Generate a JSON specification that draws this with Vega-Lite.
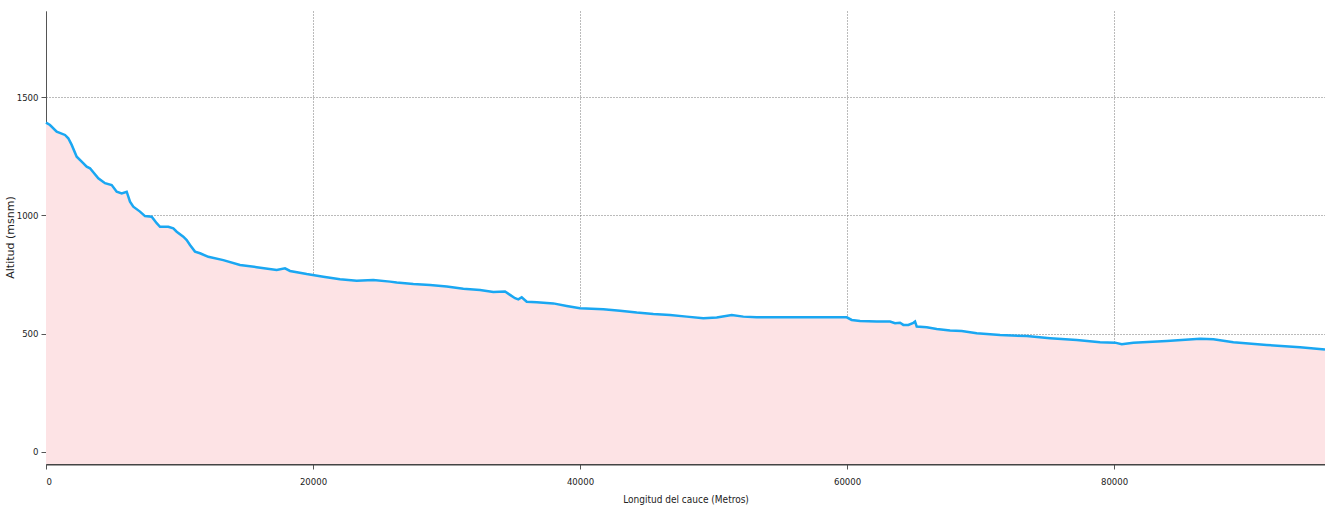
{
  "$schema": "https://vega.github.io/schema/vega-lite/v6.json",
  "autosize": {"type": "none"},
  "padding": {"left": 46, "top": 11, "right": 0, "bottom": 44},
  "width": 1279,
  "height": 453,
  "background": "white",
  "config": {
    "view": {"stroke": null},
    "axis": {
      "labelFont": "DejaVu Sans Condensed",
      "labelFontSize": 9.5,
      "labelColor": "#222",
      "titleFontWeight": "normal",
      "titleColor": "#222",
      "grid": true,
      "gridColor": "#777",
      "gridDash": [1, 2],
      "gridWidth": 1,
      "tickColor": "#555",
      "tickSize": 5,
      "domainColor": "#555"
    }
  },
  "data": {
    "values": [
      {"dist": 0, "alt": 1392},
      {"dist": 300, "alt": 1382},
      {"dist": 801, "alt": 1354},
      {"dist": 1423, "alt": 1340},
      {"dist": 1670, "alt": 1326},
      {"dist": 1925, "alt": 1298},
      {"dist": 2300, "alt": 1248},
      {"dist": 2674, "alt": 1227},
      {"dist": 3049, "alt": 1206},
      {"dist": 3296, "alt": 1199},
      {"dist": 3918, "alt": 1157},
      {"dist": 4419, "alt": 1136},
      {"dist": 4921, "alt": 1128},
      {"dist": 5296, "alt": 1100},
      {"dist": 5670, "alt": 1093},
      {"dist": 6045, "alt": 1100},
      {"dist": 6292, "alt": 1058},
      {"dist": 6539, "alt": 1037},
      {"dist": 7041, "alt": 1016},
      {"dist": 7416, "alt": 997},
      {"dist": 7917, "alt": 994},
      {"dist": 8292, "alt": 967},
      {"dist": 8539, "alt": 952},
      {"dist": 9161, "alt": 952},
      {"dist": 9535, "alt": 945},
      {"dist": 9790, "alt": 931},
      {"dist": 10285, "alt": 910},
      {"dist": 10539, "alt": 896},
      {"dist": 10786, "alt": 875},
      {"dist": 11161, "alt": 847},
      {"dist": 11536, "alt": 840},
      {"dist": 12157, "alt": 825},
      {"dist": 13281, "alt": 811},
      {"dist": 14532, "alt": 790},
      {"dist": 15783, "alt": 781},
      {"dist": 17281, "alt": 769},
      {"dist": 17903, "alt": 776},
      {"dist": 18277, "alt": 765},
      {"dist": 19528, "alt": 752},
      {"dist": 20771, "alt": 741},
      {"dist": 22022, "alt": 730},
      {"dist": 23273, "alt": 724},
      {"dist": 24517, "alt": 727},
      {"dist": 25768, "alt": 720},
      {"dist": 26270, "alt": 716},
      {"dist": 27513, "alt": 710},
      {"dist": 28764, "alt": 706},
      {"dist": 30015, "alt": 699},
      {"dist": 31258, "alt": 690},
      {"dist": 32509, "alt": 685},
      {"dist": 33506, "alt": 676},
      {"dist": 34382, "alt": 678},
      {"dist": 34756, "alt": 664},
      {"dist": 35131, "alt": 650},
      {"dist": 35378, "alt": 645},
      {"dist": 35633, "alt": 654},
      {"dist": 36007, "alt": 635},
      {"dist": 36756, "alt": 633},
      {"dist": 38000, "alt": 628},
      {"dist": 39003, "alt": 617},
      {"dist": 40000, "alt": 607},
      {"dist": 41746, "alt": 603},
      {"dist": 42996, "alt": 597},
      {"dist": 44247, "alt": 589},
      {"dist": 45490, "alt": 583},
      {"dist": 46741, "alt": 579},
      {"dist": 47992, "alt": 572},
      {"dist": 49235, "alt": 565},
      {"dist": 50239, "alt": 568},
      {"dist": 51362, "alt": 579},
      {"dist": 52231, "alt": 572},
      {"dist": 53235, "alt": 569},
      {"dist": 54232, "alt": 569},
      {"dist": 59977, "alt": 569},
      {"dist": 60351, "alt": 558},
      {"dist": 60973, "alt": 554},
      {"dist": 62224, "alt": 551},
      {"dist": 63221, "alt": 551},
      {"dist": 63595, "alt": 544},
      {"dist": 63970, "alt": 546},
      {"dist": 64217, "alt": 537},
      {"dist": 64592, "alt": 537},
      {"dist": 64966, "alt": 546},
      {"dist": 65093, "alt": 551},
      {"dist": 65220, "alt": 530},
      {"dist": 65969, "alt": 527},
      {"dist": 66718, "alt": 520},
      {"dist": 67715, "alt": 513},
      {"dist": 68591, "alt": 511},
      {"dist": 69715, "alt": 502},
      {"dist": 71460, "alt": 494},
      {"dist": 73460, "alt": 490},
      {"dist": 75206, "alt": 481},
      {"dist": 77206, "alt": 473},
      {"dist": 78951, "alt": 464},
      {"dist": 80075, "alt": 462},
      {"dist": 80577, "alt": 455},
      {"dist": 81446, "alt": 462},
      {"dist": 83948, "alt": 469},
      {"dist": 86443, "alt": 478},
      {"dist": 87439, "alt": 476},
      {"dist": 88937, "alt": 464},
      {"dist": 91435, "alt": 452},
      {"dist": 93932, "alt": 443},
      {"dist": 95800, "alt": 433}
    ]
  },
  "encoding": {
    "x": {
      "field": "dist",
      "type": "quantitative",
      "scale": {"domain": [0, 95800], "nice": false, "zero": false},
      "axis": {
        "values": [0, 20000, 40000, 60000, 80000],
        "format": "d",
        "title": "Longitud del cauce (Metros)",
        "titleFont": "DejaVu Sans Condensed",
        "titleFontSize": 10,
        "titlePadding": 9,
        "labelPadding": 7,
        "domainWidth": 2,
        "domainColor": "#444"
      }
    },
    "y": {
      "field": "alt",
      "type": "quantitative",
      "scale": {"domain": [-51, 1864], "nice": false, "zero": false},
      "axis": {
        "values": [0, 500, 1000, 1500],
        "format": "d",
        "title": "Altitud (msnm)",
        "titleFont": "DejaVu Sans",
        "titleFontSize": 11,
        "titleX": -36,
        "titleY": 226,
        "titleAngle": -90,
        "titleAlign": "center",
        "titleBaseline": "middle",
        "labelPadding": 3,
        "domainWidth": 1
      }
    }
  },
  "layer": [
    {
      "mark": {"type": "area", "color": "#fde3e5", "opacity": 1},
      "encoding": {"y2": {"datum": -51}}
    },
    {
      "mark": {"type": "line", "color": "#1aa7f2", "strokeWidth": 2.5}
    }
  ]
}
